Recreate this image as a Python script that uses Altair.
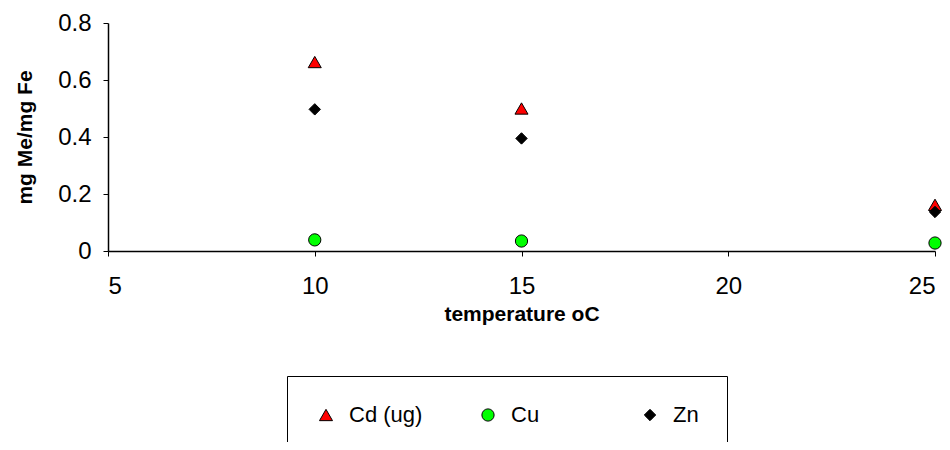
import altair as alt
import pandas as pd

temps = [10, 15, 25]
cd = [0.663, 0.50, 0.162]
cu = [0.039, 0.035, 0.028]
zn = [0.497, 0.395, 0.137]
series = ["Cd (ug)", "Cu", "Zn"]
colors = ["#FF0000", "#00FF00", "#000000"]
shapes = ["triangle-up", "circle", "diamond"]
sizes = [170, 130, 60]

rows = []
for name, vals in zip(series, [cd, cu, zn]):
    for t, v in zip(temps, vals):
        rows.append({"metal": name, "temp": t, "value": v})
df = pd.DataFrame(rows)

FONT = "Liberation Sans"

chart = alt.Chart(df).mark_point(
    filled=True, stroke="black", strokeWidth=1, opacity=1
).encode(
    x=alt.X("temp:Q", scale=alt.Scale(domain=[5, 25], nice=False),
            axis=alt.Axis(values=[5, 10, 15, 20, 25], title="temperature oC",
                          labelPadding=18, titlePadding=5)),
    y=alt.Y("value:Q", scale=alt.Scale(domain=[0, 0.8], nice=False),
            axis=alt.Axis(values=[0, 0.2, 0.4, 0.6, 0.8], format="~g",
                          title="mg Me/mg Fe", labelPadding=12, titlePadding=22)),
    fill=alt.Fill("metal:N", scale=alt.Scale(domain=series, range=colors),
                  legend=alt.Legend(title=None, orient="none", legendX=179, legendY=353,
                                    direction="horizontal", strokeColor="black",
                                    padding=28, labelOffset=12, columnPadding=54,
                                    gridAlign="all", labelFontSize=22, labelFont=FONT,
                                    labelColor="black",
                                    symbolStrokeColor="black", symbolStrokeWidth=1)),
    shape=alt.Shape("metal:N", scale=alt.Scale(domain=series, range=shapes),
                    legend=alt.Legend(title=None)),
    size=alt.Size("metal:N", scale=alt.Scale(domain=series, range=sizes),
                  legend=alt.Legend(title=None)),
).properties(
    width=827, height=228,
    autosize=alt.AutoSizeParams(type="none"),
    padding={"left": 100, "top": 15, "right": 7, "bottom": 191},
).configure_view(
    stroke=None
).configure_axis(
    grid=False, domainColor="black", tickColor="black", tickSize=5,
    labelFont=FONT, labelFontSize=24, labelColor="black",
    titleFont=FONT, titleFontSize=21, titleFontWeight="bold", titleColor="black",
    domainWidth=1.5, tickWidth=1
)

chart.save("out.html", embed_options={"renderer": "svg", "actions": False})
